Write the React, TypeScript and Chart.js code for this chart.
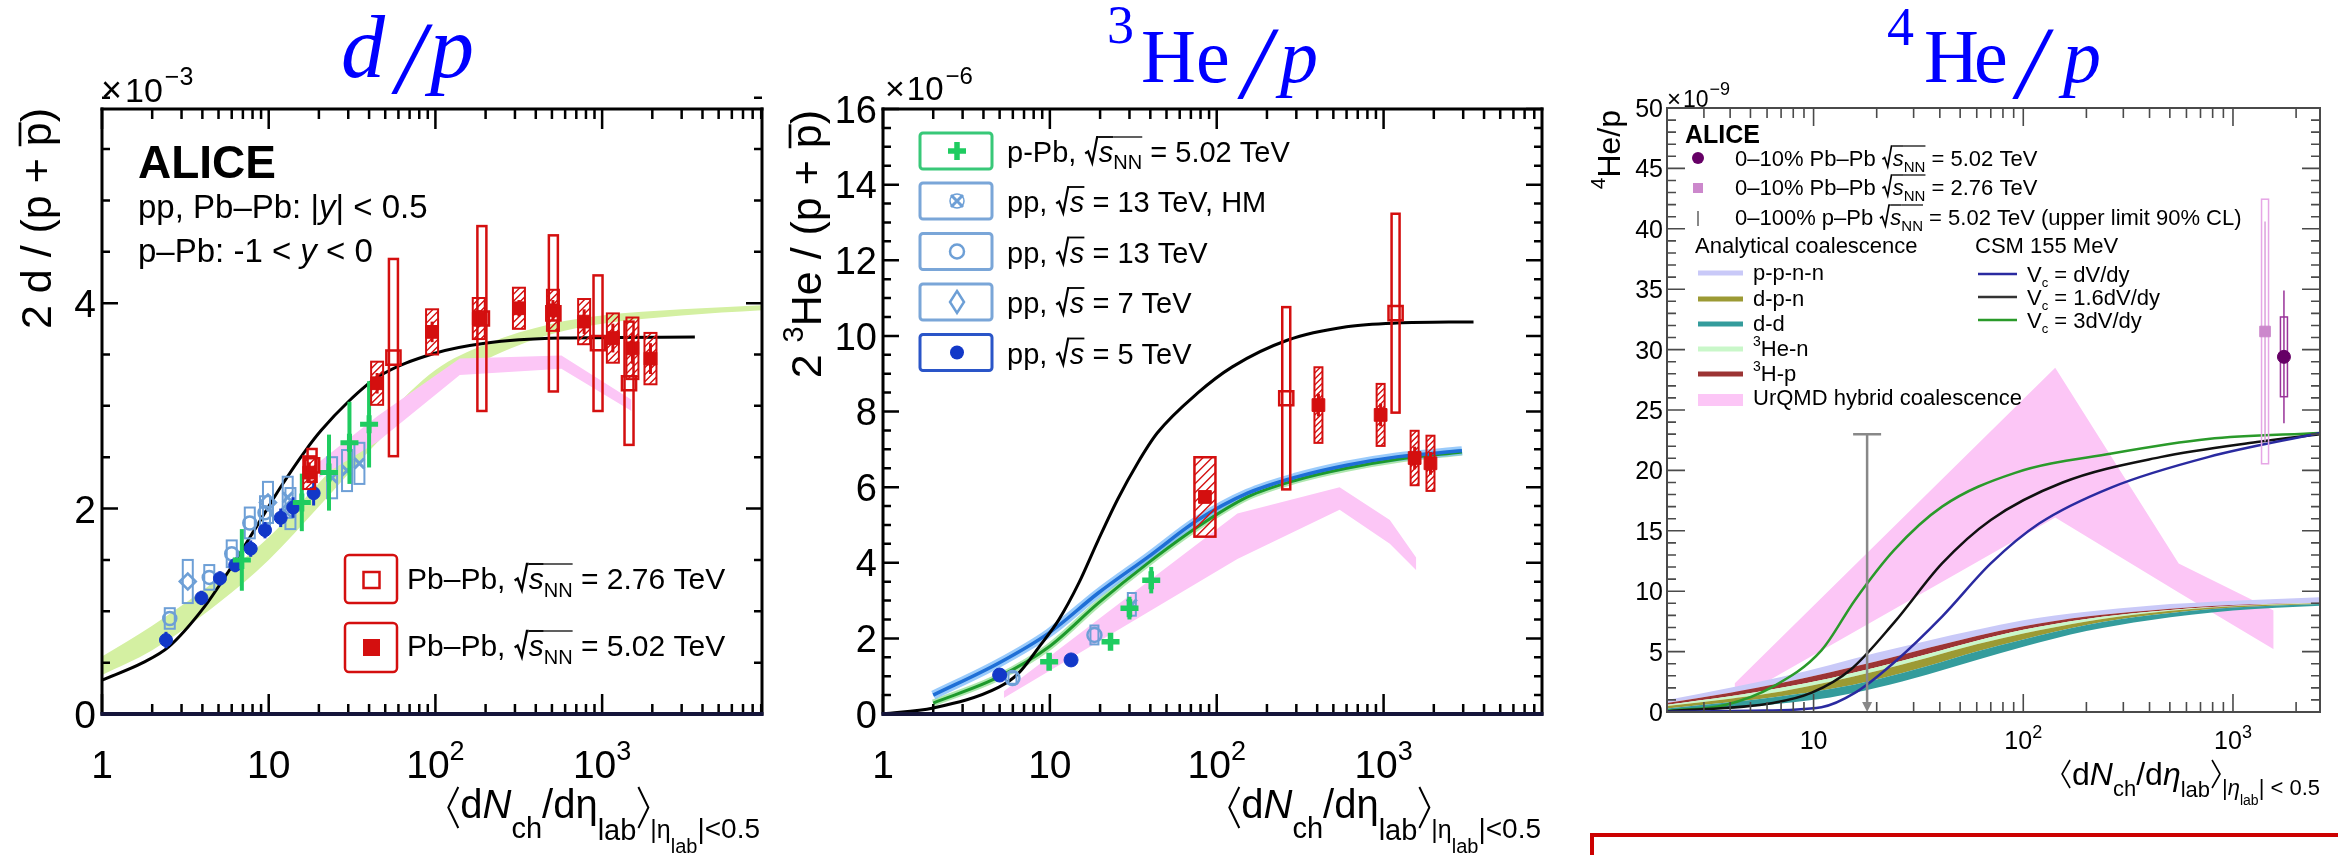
import React, { useEffect, useRef } from 'react';
import { Chart, registerables } from 'chart.js';

Chart.register(...registerables);

const FF = '"Liberation Sans", Arial, Helvetica, sans-serif';
const SERIF = '"Liberation Serif", "Times New Roman", serif';
const PAGE_H = 855;

/* ================= d/p panel ================= */
const dpXTicks = [1, 10, 100, 1000];
const dpXLabels = ['1', '10', '10^2', '10^3'];
const dpYTicks = [0, 2, 4];

const dpCsmX = [1, 1.76, 2.5, 4.1, 5.8, 8.2, 11.8, 16.7, 20.6, 30, 45, 98, 198, 568, 3600];
const dpCsmY = [0.33, 0.5, 0.65, 1.04, 1.4, 1.79, 2.21, 2.57, 2.76, 3.04, 3.28, 3.51, 3.61, 3.66, 3.67];

const dpCoalX = [1, 2, 5, 10, 20, 50, 100, 200, 500, 1000, 3000, 9100];
const dpCoalLo = [0.38, 0.62, 1.08, 1.5, 2.02, 2.72, 3.15, 3.45, 3.7, 3.8, 3.88, 3.93];
const dpCoalHi = [0.56, 0.86, 1.32, 1.72, 2.25, 2.9, 3.35, 3.6, 3.8, 3.88, 3.94, 3.98];

const dpUrqmdX = [20, 45, 140, 570, 1500];
const dpUrqmdLo = [2.3, 2.65, 3.3, 3.36, 2.95];
const dpUrqmdHi = [2.45, 2.9, 3.46, 3.49, 3.06];

const dpPPbX = [6.9, 15.8, 23, 30.5, 40];
const dpPPbY = [1.5, 2.06, 2.35, 2.64, 2.82];
const dpPPbStat = [0.3, 0.28, 0.37, 0.4, 0.42];

const dpPP5X = [2.42, 3.95, 5.1, 6.3, 7.8, 9.5, 11.8, 14, 18.6];
const dpPP5Y = [0.72, 1.13, 1.32, 1.45, 1.61, 1.79, 1.91, 2.01, 2.15];
const dpPP5Stat = [0.08, 0.07, 0.07, 0.07, 0.08, 0.08, 0.09, 0.1, 0.12];

const dpPP13X = [2.55, 4.4, 6.0, 7.7, 9.5];
const dpPP13Y = [0.93, 1.33, 1.56, 1.86, 1.96];
const dpPP13Sys = [0.1, 0.12, 0.13, 0.15, 0.16];

const dpPP7X = [3.27, 9.9, 13.5];
const dpPP7Y = [1.29, 2.06, 2.0];
const dpPP7Sys = [0.21, 0.2, 0.2];

const dpPPHMX = [13, 24, 29.5, 35];
const dpPPHMY = [2.11, 2.3, 2.37, 2.44];
const dpPPHMSys = [0.2, 0.2, 0.2, 0.2];

const dpPbPb502X = [17.5, 44.7, 95.5, 182, 317, 507, 780, 1160, 1520, 1950];
const dpPbPb502Y = [2.35, 3.22, 3.72, 3.85, 3.95, 3.93, 3.82, 3.66, 3.56, 3.46];
const dpPbPb502Sys = [0.16, 0.21, 0.22, 0.2, 0.2, 0.2, 0.22, 0.24, 0.3, 0.25];
const dpPbPb502Stat = [0.1, 0.1, 0.1, 0.08, 0.08, 0.1, 0.12, 0.14, 0.15, 0.15];

const dpPbPb276X = [18.2, 56, 190, 510, 945, 1450];
const dpPbPb276Y = [2.42, 3.47, 3.85, 3.9, 3.61, 3.22];
const dpPbPb276Sys = [0.16, 0.96, 0.9, 0.76, 0.66, 0.6];

/* ================= 3He/p panel ================= */
const he3YTicks = [0, 2, 4, 6, 8, 10, 12, 14, 16];

const he3CsmX = [1, 2, 4.95, 6.5, 8.6, 11.3, 14.9, 19.5, 25.5, 33.6, 44, 77, 124, 267, 600, 1200, 3460];
const he3CsmY = [0, 0.16, 0.71, 1.08, 1.77, 2.49, 3.46, 4.6, 5.68, 6.64, 7.43, 8.49, 9.18, 9.89, 10.24, 10.34, 10.37];

const he3CoalX = [2, 4.95, 9.85, 19.5, 38.7, 77, 153, 302, 600, 1200, 2950];
const he3CoalBlueY = [0.5, 1.35, 2.14, 3.2, 4.15, 5.13, 5.84, 6.27, 6.58, 6.8, 6.96];
const he3CoalGreenY = [0.29, 0.98, 1.77, 2.93, 3.99, 4.95, 5.74, 6.19, 6.5, 6.73, 6.93];

const he3UrqmdX = [5.3, 133, 545, 1090, 1570];
const he3UrqmdLo = [0.42, 4.1, 5.4, 4.5, 3.8];
const he3UrqmdHi = [0.6, 5.3, 6.0, 5.13, 4.13];

const he3PPbX = [9.9, 23.1, 30, 40.5];
const he3PPbY = [1.38, 1.91, 2.8, 3.54];
const he3PPbStat = [0.15, 0.15, 0.3, 0.35];

const he3PPHMX = [31];
const he3PPHMY = [2.9];
const he3PPHMSys = [0.3];

const he3PP13X = [5.97, 18.5];
const he3PP13Y = [0.95, 2.09];
const he3PP13Sys = [0.15, 0.25];

const he3PP5X = [5.0, 13.4];
const he3PP5Y = [1.03, 1.43];
const he3PP5Stat = [0.15, 0.12];

const he3PbPb502X = [407, 960, 1535, 1910];
const he3PbPb502Y = [8.17, 7.91, 6.77, 6.63];
const he3PbPb502Sys = [1.0, 0.82, 0.72, 0.73];
const he3PbPb502Stat = [0.3, 0.3, 0.3, 0.3];

const he3PbPb502CentX = [85];
const he3PbPb502CentY = [5.74];
const he3PbPb502CentSys = [1.05];

const he3PbPb276X = [261, 1180];
const he3PbPb276Y = [8.35, 10.6];
const he3PbPb276Sys = [2.41, 2.63];

/* ================= 4He/p panel ================= */
const he4XTicks = [10, 100, 1000];
const he4XLabels = ['10', '10^2', '10^3'];
const he4YTicks = [0, 5, 10, 15, 20, 25, 30, 35, 40, 45, 50];

const he4CoalX = [2, 4, 7, 12, 20, 35, 60, 100, 200, 400, 1000, 2600];
const he4DdLo = [0, 0.3, 0.7, 1.2, 2.0, 3.1, 4.3, 5.4, 6.7, 7.6, 8.4, 8.8];
const he4DdHi = [0.3, 0.8, 1.3, 1.9, 2.7, 3.8, 5.0, 6.0, 7.2, 8.0, 8.65, 8.95];
const he4DpnHi = [0.5, 1.1, 1.7, 2.5, 3.4, 4.5, 5.6, 6.5, 7.5, 8.2, 8.75, 9.0];
const he4HenHi = [0.6, 1.3, 2.0, 2.8, 3.7, 4.8, 5.9, 6.8, 7.7, 8.3, 8.8, 9.02];
const he4HpHi = [0.75, 1.6, 2.4, 3.3, 4.2, 5.3, 6.3, 7.1, 7.9, 8.4, 8.85, 9.05];
const he4PpnnHi = [1.0, 2.0, 2.9, 3.9, 4.9, 5.9, 6.8, 7.6, 8.3, 8.8, 9.2, 9.5];

const he4Csm1X = [2, 5, 10.9, 15.8, 24.2, 41, 70, 119, 264, 760, 2600];
const he4Csm1Y = [0.02, 0.1, 0.4, 1.6, 4.1, 7.9, 12.3, 15.6, 18.6, 21.1, 23.1];
const he4Csm16X = [2, 6.4, 9.8, 15, 24.2, 41, 70, 154, 450, 1300, 2600];
const he4Csm16Y = [0.05, 0.75, 1.6, 3.5, 7.4, 12.3, 15.9, 19.0, 21.1, 22.35, 23.0];
const he4Csm3X = [2, 3.78, 6.4, 10.9, 15.8, 24.2, 41, 91.4, 264, 760, 2600];
const he4Csm3Y = [0.1, 0.58, 2.1, 5.1, 9.3, 13.4, 17.0, 19.8, 21.4, 22.6, 23.1];

const he4UrqmdX = [4.2, 142, 551, 1563];
const he4UrqmdLo = [1.0, 16.1, 9.9, 5.2];
const he4UrqmdHi = [2.35, 28.5, 12.3, 8.4];

const he4PbPb502X = [1750];
const he4PbPb502Y = [29.4];
const he4PbPb502Stat = [5.5];
const he4PbPb502Sys = [3.3];

const he4PbPb276X = [1422];
const he4PbPb276Y = [31.5];
const he4PbPb276Stat = [9.1];
const he4PbPb276Sys = [10.95];

const he4UlX = [18];
const he4UlY = [23];

/* ================= helpers ================= */
const xy = (X: number[], Y: number[]) => X.map((x, i) => ({ x, y: Y[i] }));

function lineDs(X: number[], Y: number[], color: string, width: number, order = 5, smooth = true): any {
  return {
    data: xy(X, Y), showLine: true, borderColor: color, borderWidth: width, pointRadius: 0,
    fill: false, order, tension: 0, cubicInterpolationMode: smooth ? 'monotone' : 'default',
  };
}
function bandDs(X: number[], Y: number[], color: string | null, order: number, smooth: boolean): any {
  const d = lineDs(X, Y, 'rgba(0,0,0,0)', 0, order, smooth);
  if (color) { d.fill = '-1'; d.backgroundColor = color; }
  return d;
}
function markDs(X: number[], Y: number[], style: string, o: any): any {
  return {
    data: xy(X, Y), showLine: false, pointStyle: style, pointRadius: o.r,
    pointBackgroundColor: o.fill ?? o.color, pointBorderColor: o.color, pointBorderWidth: o.bw ?? 1,
    borderColor: o.color, backgroundColor: o.fill ?? o.color, order: o.order ?? 1, errs: o.errs,
  };
}

type Part = any;
function fontOf(p: Part) {
  return `${p.it ? 'italic ' : ''}${p.b ? 'bold ' : ''}${p.f}px ${p.fam || FF}`;
}
function partW(ctx: CanvasRenderingContext2D, p: Part) {
  if (p.sqrt) return p.f * 0.5;
  if (p.br) return p.w;
  ctx.font = fontOf(p);
  return ctx.measureText(p.t).width + (p.dx || 0);
}
function drawRich(ctx: CanvasRenderingContext2D, x: number, y: number, parts: Part[], align = 'left', color = '#000') {
  let w = 0;
  for (const p of parts) w += partW(ctx, p);
  let cx = align === 'left' ? x : align === 'right' ? x - w : x - w / 2;
  ctx.textAlign = 'left';
  ctx.textBaseline = 'alphabetic';
  for (const p of parts) {
    const pw = partW(ctx, p);
    const col = p.c || color;
    ctx.fillStyle = col;
    ctx.strokeStyle = col;
    if (p.sqrt) {
      const s = p.f, h = p.sqrt;
      ctx.lineWidth = Math.max(1.3, s / 13);
      ctx.beginPath();
      ctx.moveTo(cx + 0.03 * s, y - 0.34 * h);
      ctx.lineTo(cx + 0.13 * s, y - 0.42 * h);
      ctx.lineTo(cx + 0.27 * s, y + 0.03 * s);
      ctx.lineTo(cx + 0.44 * s, y - h);
      ctx.lineTo(cx + 0.5 * s, y - h);
      ctx.stroke();
    } else if (p.br) {
      ctx.lineWidth = p.lw || 2;
      const mid = y + (p.bot - p.top) / 2;
      ctx.beginPath();
      if (p.br === 'l') {
        ctx.moveTo(cx + p.w - 2, y - p.top); ctx.lineTo(cx + 2, mid); ctx.lineTo(cx + p.w - 2, y + p.bot);
      } else {
        ctx.moveTo(cx + 2, y - p.top); ctx.lineTo(cx + p.w - 2, mid); ctx.lineTo(cx + 2, y + p.bot);
      }
      ctx.stroke();
    } else {
      ctx.font = fontOf(p);
      ctx.fillText(p.t, cx, y + (p.dy || 0));
    }
    if (p.ol) {
      ctx.lineWidth = Math.max(1.2, p.f / 16);
      ctx.beginPath();
      ctx.moveTo(cx, y - p.ol);
      ctx.lineTo(cx + pw, y - p.ol);
      ctx.stroke();
    }
    cx += pw;
  }
}
const sqS = (f: number, h: number, sub?: string): Part[] => {
  const r: Part[] = [{ sqrt: h, f }, { t: 's', f, it: true, ol: h }];
  if (sub) r.push({ t: sub, f: Math.round(f * 0.68), dy: Math.round(f * 0.25), ol: h });
  return r;
};

function drawGlyphs(ctx: CanvasRenderingContext2D, gl: any[]) {
  ctx.textAlign = 'left';
  ctx.textBaseline = 'alphabetic';
  ctx.fillStyle = '#0000ff';
  gl.forEach((g) => {
    ctx.font = `${g.it ? 'italic ' : ''}${g.f}px ${SERIF}`;
    ctx.fillText(g.t, g.x, g.y);
  });
}

function drawErrs(chart: any, ds: any) {
  const e = ds && ds.errs;
  if (!e) return;
  const { ctx, chartArea: a } = chart;
  const sx = chart.scales.x, sy = chart.scales.y;
  ctx.save();
  ctx.beginPath();
  ctx.rect(a.left, a.top, a.right - a.left, a.bottom - a.top);
  ctx.clip();
  ds.data.forEach((p: any, i: number) => {
    const px = sx.getPixelForValue(p.x);
    if (e.stat) {
      const t = sy.getPixelForValue(p.y + e.stat[i]);
      const b = sy.getPixelForValue(p.y - e.stat[i]);
      ctx.strokeStyle = e.statColor;
      ctx.lineWidth = e.statLw;
      ctx.beginPath();
      ctx.moveTo(px, t);
      ctx.lineTo(px, b);
      ctx.stroke();
    }
    if (e.sys) {
      const t = sy.getPixelForValue(p.y + e.sys[i]);
      const b = sy.getPixelForValue(p.y - e.sys[i]);
      const hw = e.bw / 2;
      if (e.hatch) {
        ctx.save();
        ctx.beginPath();
        ctx.rect(px - hw, t, 2 * hw, b - t);
        ctx.clip();
        ctx.strokeStyle = e.sysColor;
        ctx.lineWidth = 1.4;
        ctx.beginPath();
        for (let k = 0; k < b - t + 2 * hw + e.hatch; k += e.hatch) {
          ctx.moveTo(px - hw, t + k);
          ctx.lineTo(px + hw, t + k - 2 * hw);
        }
        ctx.stroke();
        ctx.restore();
      }
      ctx.strokeStyle = e.sysColor;
      ctx.lineWidth = e.sysLw;
      ctx.strokeRect(px - hw, t, 2 * hw, b - t);
    }
  });
  ctx.restore();
}

function drawAxes(chart: any, o: any) {
  const { ctx, chartArea: a } = chart;
  const sx = chart.scales.x, sy = chart.scales.y;
  ctx.save();
  ctx.setLineDash([]);
  ctx.globalAlpha = 1;
  ctx.lineCap = 'butt';
  ctx.strokeStyle = o.color;
  ctx.lineWidth = o.tickW;
  ctx.beginPath();
  const d0 = Math.floor(Math.log10(o.xmin)), d1 = Math.ceil(Math.log10(o.xmax));
  for (let d = d0; d <= d1; d++) {
    for (let m = 1; m <= 9; m++) {
      const v = m * Math.pow(10, d);
      if (v < o.xmin * 0.9999 || v > o.xmax * 1.0001) continue;
      const px = sx.getPixelForValue(v);
      const L = m === 1 ? o.xMajL : o.xMinL;
      ctx.moveTo(px, a.bottom); ctx.lineTo(px, a.bottom - L);
      ctx.moveTo(px, a.top); ctx.lineTo(px, a.top + L);
    }
  }
  const n = Math.round((o.ymax - o.ymin) / o.yStep);
  for (let i = 0; i <= n; i++) {
    const v = o.ymin + i * o.yStep;
    const py = sy.getPixelForValue(v);
    const major = o.yTicks.some((t: number) => Math.abs(t - v) < 1e-9);
    const L = major ? o.yMajL : o.yMinL;
    ctx.moveTo(a.left, py); ctx.lineTo(a.left + L, py);
    ctx.moveTo(a.right, py); ctx.lineTo(a.right - L, py);
  }
  ctx.stroke();
  // frame drawn as filled bars
  const fw = o.frameW;
  ctx.fillStyle = o.color;
  ctx.fillRect(a.left - fw / 2, a.top - fw / 2, a.right - a.left + fw, fw);
  ctx.fillRect(a.left - fw / 2, a.top - fw / 2, fw, a.bottom - a.top + fw);
  ctx.fillRect(a.right - fw / 2, a.top - fw / 2, fw, a.bottom - a.top + fw);
  ctx.fillStyle = o.bottomColor || o.color;
  const bw = o.bottomColor ? fw + 1 : fw;
  ctx.fillRect(a.left - fw / 2, a.bottom - bw / 2, a.right - a.left + fw, bw);
  o.xTicks.forEach((v: number, i: number) => {
    const px = sx.getPixelForValue(v);
    const [b, e] = o.xLabels[i].split('^');
    const parts: Part[] = [{ t: b, f: o.xLabF }];
    if (e) parts.push({ t: e, f: Math.round(o.xLabF * 0.7), dy: -Math.round(o.xLabF * 0.45) });
    drawRich(ctx, px, o.xLabY, parts, 'center');
  });
  o.yTicks.forEach((v: number) => {
    const py = sy.getPixelForValue(v);
    drawRich(ctx, o.yLabX, py + o.yLabF * 0.36, [{ t: String(v), f: o.yLabF }], 'right');
  });
  ctx.restore();
}

function baseOptions(pad: any, xmin: number, xmax: number, ymin: number, ymax: number): any {
  return {
    responsive: false,
    animation: false,
    events: [],
    layout: { padding: pad },
    scales: {
      x: { type: 'logarithmic', min: xmin, max: xmax, display: false, ticks: { display: false } },
      y: { type: 'linear', min: ymin, max: ymax, display: false, ticks: { display: false } },
    },
    plugins: { legend: { display: false }, tooltip: { enabled: false }, title: { display: false } },
  };
}

const errPlugin = {
  id: 'errs',
  beforeDatasetDraw(chart: any, args: any) {
    drawErrs(chart, chart.data.datasets[args.index]);
  },
};

/* ================= panel builders ================= */
const RED = '#d40f0f';
const LBLUE = '#6d9fd6';
const DBLUE = '#1238c8';
const GREEN = '#1fcc60';

function xTitleBig(): Part[] {
  return [
    { br: 'l', w: 14, top: 31, bot: 10, lw: 2 },
    { t: 'd', f: 40 }, { t: 'N', f: 40, it: true }, { t: 'ch', f: 29, dy: 20 },
    { t: '/d', f: 40 }, { t: 'η', f: 40 }, { t: 'lab', f: 29, dy: 22 },
    { br: 'r', w: 14, top: 31, bot: 10, lw: 2 },
    { t: '|η', f: 25, dy: 20 }, { t: 'lab', f: 20, dy: 35 }, { t: '|<0.5', f: 28, dy: 20 },
  ];
}

function buildDp(): any {
  const opts = baseOptions({ left: 102, right: 18, top: 109, bottom: PAGE_H - 714 }, 1, 9100, 0, 5.89);
  const datasets = [
    bandDs(dpCoalX, dpCoalLo, null, 20, true),
    bandDs(dpCoalX, dpCoalHi, '#d4f0a2', 20, true),
    bandDs(dpUrqmdX, dpUrqmdLo, null, 19, false),
    bandDs(dpUrqmdX, dpUrqmdHi, '#fcc6f6', 19, false),
    lineDs(dpCsmX, dpCsmY, '#000000', 3, 5),
    markDs(dpPP13X, dpPP13Y, 'circle', { r: 6.5, color: LBLUE, fill: 'rgba(0,0,0,0)', bw: 2.5, order: 4,
      errs: { sys: dpPP13Sys, bw: 10, sysColor: LBLUE, sysLw: 2 } }),
    markDs(dpPP7X, dpPP7Y, 'rectRot', { r: 8, color: LBLUE, fill: 'rgba(0,0,0,0)', bw: 2.5, order: 4,
      errs: { sys: dpPP7Sys, bw: 10, sysColor: LBLUE, sysLw: 2 } }),
    markDs(dpPPHMX, dpPPHMY, 'crossRot', { r: 7, color: LBLUE, bw: 3, order: 4,
      errs: { sys: dpPPHMSys, bw: 10, sysColor: LBLUE, sysLw: 2 } }),
    markDs(dpPP5X, dpPP5Y, 'circle', { r: 6.5, color: DBLUE, order: 3,
      errs: { stat: dpPP5Stat, statColor: DBLUE, statLw: 3 } }),
    markDs(dpPPbX, dpPPbY, 'cross', { r: 9, color: GREEN, bw: 5, order: 2,
      errs: { stat: dpPPbStat, statColor: GREEN, statLw: 4 } }),
    markDs(dpPbPb276X, dpPbPb276Y, 'rect', { r: 10, color: RED, fill: 'rgba(0,0,0,0)', bw: 2.5, order: 1,
      errs: { sys: dpPbPb276Sys, bw: 9, sysColor: RED, sysLw: 2.5 } }),
    markDs(dpPbPb502X, dpPbPb502Y, 'rect', { r: 9, color: RED, order: 1,
      errs: { sys: dpPbPb502Sys, bw: 12, sysColor: RED, sysLw: 2, hatch: 7, stat: dpPbPb502Stat, statColor: RED, statLw: 3 } }),
  ];
  const deco = {
    id: 'dpDeco',
    afterDraw(chart: any) {
      const ctx = chart.ctx;
      drawAxes(chart, {
        xmin: 1, xmax: 9100, ymin: 0, ymax: 5.89, yStep: 0.5, yTicks: dpYTicks,
        color: '#000000', tickW: 2.5, frameW: 3, bottomColor: '#15153a',
        xMajL: 20, xMinL: 10, yMajL: 16, yMinL: 8,
        xTicks: dpXTicks, xLabels: dpXLabels, xLabF: 39, xLabY: 778, yLabF: 39, yLabX: 96,
      });
      drawGlyphs(ctx, [
        { t: 'd', x: 341, y: 77, f: 88, it: true },
        { t: '/', x: 396, y: 93, f: 104, it: true },
        { t: 'p', x: 430, y: 77, f: 88, it: true },
      ]);
      drawRich(ctx, 101, 102, [{ t: '×', f: 36, dx: 3 }, { t: '10', f: 34, dx: 2 }, { t: '−3', f: 25, dy: -17 }]);
      ctx.save();
      ctx.translate(51, 108);
      ctx.rotate(-Math.PI / 2);
      drawRich(ctx, 0, 0, [{ t: '2 d / (p + ', f: 43 }, { t: 'p', f: 43, ol: 31 }, { t: ')', f: 43 }], 'right');
      ctx.restore();
      drawRich(ctx, 138, 178, [{ t: 'ALICE', f: 46, b: true }]);
      drawRich(ctx, 138, 218, [{ t: 'pp, Pb–Pb: |', f: 33 }, { t: 'y', f: 33, it: true }, { t: '| < 0.5', f: 33 }]);
      drawRich(ctx, 138, 262, [{ t: 'p–Pb: -1 < ', f: 33 }, { t: 'y', f: 33, it: true }, { t: ' < 0', f: 33 }]);
      ctx.save();
      ctx.strokeStyle = RED;
      ctx.lineWidth = 2.5;
      ctx.beginPath(); ctx.roundRect(345, 555, 52, 48, 4); ctx.stroke();
      ctx.beginPath(); ctx.roundRect(345, 623, 52, 49, 4); ctx.stroke();
      ctx.strokeRect(363.5, 572, 16, 16);
      ctx.fillStyle = RED;
      ctx.fillRect(363, 639, 17, 17);
      ctx.restore();
      drawRich(ctx, 407, 589, [{ t: 'Pb–Pb, ', f: 30 }, ...sqS(30, 25, 'NN'), { t: ' = 2.76 TeV', f: 30 }]);
      drawRich(ctx, 407, 656, [{ t: 'Pb–Pb, ', f: 30 }, ...sqS(30, 25, 'NN'), { t: ' = 5.02 TeV', f: 30 }]);
      drawRich(ctx, 760, 818, xTitleBig(), 'right');
    },
  };
  return { type: 'line', data: { datasets }, options: opts, plugins: [errPlugin, deco] };
}

function drawMark(ctx: CanvasRenderingContext2D, kind: string, x: number, y: number, col: string) {
  ctx.save();
  ctx.strokeStyle = col;
  ctx.fillStyle = col;
  ctx.beginPath();
  if (kind === 'plus') {
    ctx.lineWidth = 5.5;
    ctx.moveTo(x - 9, y); ctx.lineTo(x + 9, y); ctx.moveTo(x, y - 9); ctx.lineTo(x, y + 9);
    ctx.stroke();
  } else if (kind === 'hm') {
    ctx.lineWidth = 3;
    ctx.moveTo(x - 6, y - 6); ctx.lineTo(x + 6, y + 6); ctx.moveTo(x + 6, y - 6); ctx.lineTo(x - 6, y + 6);
    ctx.stroke();
    ctx.lineWidth = 1.5;
    ctx.beginPath(); ctx.arc(x, y, 7, 0, Math.PI * 2); ctx.stroke();
  } else if (kind === 'ocirc') {
    ctx.lineWidth = 2.5;
    ctx.arc(x, y, 7, 0, Math.PI * 2); ctx.stroke();
  } else if (kind === 'diam') {
    ctx.lineWidth = 2.5;
    ctx.moveTo(x, y - 11); ctx.lineTo(x + 7, y); ctx.lineTo(x, y + 11); ctx.lineTo(x - 7, y); ctx.closePath();
    ctx.stroke();
  } else {
    ctx.arc(x, y, 7, 0, Math.PI * 2); ctx.fill();
  }
  ctx.restore();
}

function buildHe3(): any {
  const opts = baseOptions({ left: 103, right: 18, top: 109, bottom: PAGE_H - 714 }, 1, 8900, 0, 16);
  const datasets = [
    bandDs(he3UrqmdX, he3UrqmdLo, null, 19, false),
    bandDs(he3UrqmdX, he3UrqmdHi, '#fcc6f6', 19, false),
    lineDs(he3CoalX, he3CoalBlueY, 'rgba(120,185,250,0.75)', 9, 8),
    lineDs(he3CoalX, he3CoalGreenY, 'rgba(120,215,120,0.6)', 7, 8),
    lineDs(he3CoalX, he3CoalBlueY, '#1f6fd6', 3.5, 6),
    lineDs(he3CoalX, he3CoalGreenY, '#1d9a2b', 3, 6),
    lineDs(he3CsmX, he3CsmY, '#000000', 3, 5),
    markDs(he3PP13X, he3PP13Y, 'circle', { r: 7, color: LBLUE, fill: 'rgba(0,0,0,0)', bw: 2.5, order: 4,
      errs: { sys: he3PP13Sys, bw: 8, sysColor: LBLUE, sysLw: 2 } }),
    markDs(he3PPHMX, he3PPHMY, 'crossRot', { r: 7, color: LBLUE, bw: 3, order: 4,
      errs: { sys: he3PPHMSys, bw: 8, sysColor: LBLUE, sysLw: 2 } }),
    markDs(he3PP5X, he3PP5Y, 'circle', { r: 7, color: DBLUE, order: 3,
      errs: { stat: he3PP5Stat, statColor: DBLUE, statLw: 3 } }),
    markDs(he3PPbX, he3PPbY, 'cross', { r: 9, color: GREEN, bw: 5.5, order: 2,
      errs: { stat: he3PPbStat, statColor: GREEN, statLw: 4 } }),
    markDs(he3PbPb276X, he3PbPb276Y, 'rect', { r: 10, color: RED, fill: 'rgba(0,0,0,0)', bw: 2.5, order: 1,
      errs: { sys: he3PbPb276Sys, bw: 8, sysColor: RED, sysLw: 2.5 } }),
    markDs(he3PbPb502CentX, he3PbPb502CentY, 'rect', { r: 9, color: RED, order: 1,
      errs: { sys: he3PbPb502CentSys, bw: 21, sysColor: RED, sysLw: 2.5, hatch: 9 } }),
    markDs(he3PbPb502X, he3PbPb502Y, 'rect', { r: 9, color: RED, order: 1,
      errs: { sys: he3PbPb502Sys, bw: 8, sysColor: RED, sysLw: 2, hatch: 6, stat: he3PbPb502Stat, statColor: RED, statLw: 3 } }),
  ];
  const legend = [
    { kind: 'plus', col: GREEN, box: '#38c878', parts: [{ t: 'p-Pb, ', f: 29 }, ...sqS(29, 25, 'NN'), { t: ' = 5.02 TeV', f: 29 }] },
    { kind: 'hm', col: LBLUE, box: '#7aa6d8', parts: [{ t: 'pp, ', f: 29 }, ...sqS(29, 25), { t: ' = 13 TeV, HM', f: 29 }] },
    { kind: 'ocirc', col: LBLUE, box: '#7aa6d8', parts: [{ t: 'pp, ', f: 29 }, ...sqS(29, 25), { t: ' = 13 TeV', f: 29 }] },
    { kind: 'diam', col: LBLUE, box: '#7aa6d8', parts: [{ t: 'pp, ', f: 29 }, ...sqS(29, 25), { t: ' = 7 TeV', f: 29 }] },
    { kind: 'fcirc', col: DBLUE, box: '#2a55c8', parts: [{ t: 'pp, ', f: 29 }, ...sqS(29, 25), { t: ' = 5 TeV', f: 29 }] },
  ];
  const rowY = [151, 201, 251.5, 302, 352.5];
  const deco = {
    id: 'he3Deco',
    afterDraw(chart: any) {
      const ctx = chart.ctx;
      drawAxes(chart, {
        xmin: 1, xmax: 8900, ymin: 0, ymax: 16, yStep: 0.5, yTicks: he3YTicks,
        color: '#000000', tickW: 2.5, frameW: 3, bottomColor: '#15153a',
        xMajL: 20, xMinL: 10, yMajL: 16, yMinL: 8,
        xTicks: dpXTicks, xLabels: dpXLabels, xLabF: 39, xLabY: 778, yLabF: 38, yLabX: 97,
      });
      drawGlyphs(ctx, [
        { t: '3', x: 327, y: 43, f: 54 },
        { t: 'H', x: 361, y: 82, f: 76 },
        { t: 'e', x: 416, y: 82, f: 76 },
        { t: '/', x: 462, y: 98, f: 104, it: true },
        { t: 'p', x: 500, y: 82, f: 76, it: true },
      ]);
      drawRich(ctx, 105, 100, [{ t: '×', f: 34, dx: 2 }, { t: '10', f: 33, dx: 2 }, { t: '−6', f: 24, dy: -16 }]);
      ctx.save();
      ctx.translate(41, 110);
      ctx.rotate(-Math.PI / 2);
      drawRich(ctx, 0, 0, [
        { t: '2 ', f: 43 }, { t: '3', f: 29, dy: -18 }, { t: 'He / (p + ', f: 43 },
        { t: 'p', f: 43, ol: 31 }, { t: ')', f: 43 },
      ], 'right');
      ctx.restore();
      legend.forEach((r, i) => {
        const cy = rowY[i];
        ctx.save();
        ctx.strokeStyle = r.box;
        ctx.lineWidth = 3;
        ctx.beginPath(); ctx.roundRect(140, cy - 18, 72, 36, 3); ctx.stroke();
        ctx.restore();
        drawMark(ctx, r.kind, 177, cy, r.col);
        drawRich(ctx, 227, cy + 11, r.parts);
      });
      drawRich(ctx, 761, 818, xTitleBig(), 'right');
    },
  };
  return { type: 'line', data: { datasets }, options: opts, plugins: [errPlugin, deco] };
}

function buildHe4(): any {
  const opts = baseOptions({ left: 107, right: 18, top: 108, bottom: PAGE_H - 712 }, 2, 2600, 0, 50);
  const datasets = [
    bandDs(he4UrqmdX, he4UrqmdLo, null, 30, false),
    bandDs(he4UrqmdX, he4UrqmdHi, '#fcc6f6', 30, false),
    bandDs(he4CoalX, he4DdLo, null, 20, true),
    bandDs(he4CoalX, he4DdHi, '#349c9c', 20, true),
    bandDs(he4CoalX, he4DpnHi, '#9c9a34', 20, true),
    bandDs(he4CoalX, he4HenHi, '#c9f7c9', 20, true),
    bandDs(he4CoalX, he4HpHi, '#9c3434', 20, true),
    bandDs(he4CoalX, he4PpnnHi, '#c9c9f8', 20, true),
    lineDs(he4Csm1X, he4Csm1Y, '#2a2aa0', 2.5, 5),
    lineDs(he4Csm16X, he4Csm16Y, '#111111', 2.5, 5),
    lineDs(he4Csm3X, he4Csm3Y, '#2a9a2a', 2.5, 5),
    markDs(he4PbPb276X, he4PbPb276Y, 'rect', { r: 7.5, color: '#cc88cc', order: 2,
      errs: { sys: he4PbPb276Sys, bw: 7, sysColor: '#e6a6e6', sysLw: 1.5, stat: he4PbPb276Stat, statColor: '#dca0dc', statLw: 1.5 } }),
    markDs(he4PbPb502X, he4PbPb502Y, 'circle', { r: 6.5, color: '#660066', order: 1,
      errs: { sys: he4PbPb502Sys, bw: 7, sysColor: '#993399', sysLw: 1.5, stat: he4PbPb502Stat, statColor: '#993399', statLw: 1.5 } }),
  ];
  const deco = {
    id: 'he4Deco',
    afterDraw(chart: any) {
      const ctx = chart.ctx;
      const sx = chart.scales.x, sy = chart.scales.y;
      ctx.save();
      ctx.strokeStyle = '#888888';
      ctx.fillStyle = '#888888';
      ctx.lineWidth = 2.5;
      he4UlX.forEach((x, i) => {
        const px = sx.getPixelForValue(x);
        const py = sy.getPixelForValue(he4UlY[i]);
        const p0 = sy.getPixelForValue(0);
        ctx.beginPath();
        ctx.moveTo(px - 14, py); ctx.lineTo(px + 14, py);
        ctx.moveTo(px, py); ctx.lineTo(px, p0 - 8);
        ctx.stroke();
        ctx.beginPath();
        ctx.moveTo(px - 5, p0 - 10); ctx.lineTo(px + 5, p0 - 10); ctx.lineTo(px, p0); ctx.closePath();
        ctx.fill();
      });
      ctx.restore();
      drawAxes(chart, {
        xmin: 2, xmax: 2600, ymin: 0, ymax: 50, yStep: 1, yTicks: he4YTicks,
        color: '#4a4a4a', tickW: 1.6, frameW: 2,
        xMajL: 18, xMinL: 10, yMajL: 18, yMinL: 9,
        xTicks: he4XTicks, xLabels: he4XLabels, xLabF: 25, xLabY: 749, yLabF: 25, yLabX: 103,
      });
      drawGlyphs(ctx, [
        { t: '4', x: 327, y: 45, f: 54 },
        { t: 'H', x: 364, y: 82, f: 76 },
        { t: 'e', x: 414, y: 82, f: 76 },
        { t: '/', x: 457, y: 98, f: 104, it: true },
        { t: 'p', x: 503, y: 82, f: 76, it: true },
      ]);
      drawRich(ctx, 107, 107, [{ t: '×', f: 24, dx: 2 }, { t: '10', f: 23, dx: 1 }, { t: '−9', f: 18, dy: -12 }]);
      ctx.save();
      ctx.translate(60, 110);
      ctx.rotate(-Math.PI / 2);
      drawRich(ctx, 0, 0, [{ t: '4', f: 21, dy: -15 }, { t: 'He/p', f: 32 }], 'right');
      ctx.restore();
      drawRich(ctx, 125, 143, [{ t: 'ALICE', f: 25, b: true }]);
      ctx.save();
      ctx.fillStyle = '#660066';
      ctx.beginPath(); ctx.arc(138, 158, 6, 0, Math.PI * 2); ctx.fill();
      ctx.fillStyle = '#cc88cc';
      ctx.fillRect(133, 183, 10, 10);
      ctx.strokeStyle = '#888888';
      ctx.lineWidth = 2;
      ctx.beginPath(); ctx.moveTo(138, 211); ctx.lineTo(138, 226); ctx.stroke();
      ctx.restore();
      drawRich(ctx, 175, 166, [{ t: '0–10% Pb–Pb ', f: 22 }, ...sqS(22, 20, 'NN'), { t: ' = 5.02 TeV', f: 22 }]);
      drawRich(ctx, 175, 195, [{ t: '0–10% Pb–Pb ', f: 22 }, ...sqS(22, 20, 'NN'), { t: ' = 2.76 TeV', f: 22 }]);
      drawRich(ctx, 175, 225, [{ t: '0–100% p–Pb ', f: 22 }, ...sqS(22, 20, 'NN'), { t: ' = 5.02 TeV (upper limit 90% CL)', f: 22 }]);
      drawRich(ctx, 135, 253, [{ t: 'Analytical coalescence', f: 22 }]);
      drawRich(ctx, 415, 253, [{ t: 'CSM 155 MeV', f: 22 }]);
      const coal = [
        { c: '#c9c9f8', y: 273, parts: [{ t: 'p-p-n-n', f: 22 }] },
        { c: '#9c9a34', y: 299, parts: [{ t: 'd-p-n', f: 22 }] },
        { c: '#349c9c', y: 324, parts: [{ t: 'd-d', f: 22 }] },
        { c: '#c9f7c9', y: 349, parts: [{ t: '3', f: 14, dy: -10 }, { t: 'He-n', f: 22 }] },
        { c: '#9c3434', y: 374, parts: [{ t: '3', f: 14, dy: -10 }, { t: 'H-p', f: 22 }] },
      ];
      ctx.save();
      ctx.lineWidth = 5;
      coal.forEach((r) => {
        ctx.strokeStyle = r.c;
        ctx.beginPath(); ctx.moveTo(138, r.y); ctx.lineTo(183, r.y); ctx.stroke();
      });
      ctx.fillStyle = '#fcc6f6';
      ctx.fillRect(138, 394, 45, 12);
      ctx.restore();
      coal.forEach((r) => drawRich(ctx, 193, r.y + 7, r.parts));
      drawRich(ctx, 193, 405, [{ t: 'UrQMD hybrid coalescence', f: 22 }]);
      const csm = [
        { c: '#2a2aa0', y: 274, t: ' = dV/dy' },
        { c: '#333333', y: 297, t: ' = 1.6dV/dy' },
        { c: '#2a9a2a', y: 320, t: ' = 3dV/dy' },
      ];
      ctx.save();
      ctx.lineWidth = 2.5;
      csm.forEach((r) => {
        ctx.strokeStyle = r.c;
        ctx.beginPath(); ctx.moveTo(418, r.y); ctx.lineTo(457, r.y); ctx.stroke();
      });
      ctx.restore();
      csm.forEach((r) => drawRich(ctx, 467, r.y + 8, [{ t: 'V', f: 22 }, { t: 'c', f: 13, dy: 5 }, { t: r.t, f: 22 }]));
      drawRich(ctx, 760, 785, [
        { br: 'l', w: 12, top: 25, bot: 3, lw: 1.6 },
        { t: 'd', f: 32 }, { t: 'N', f: 32, it: true }, { t: 'ch', f: 22, dy: 11 },
        { t: '/d', f: 32 }, { t: 'η', f: 32, it: true }, { t: 'lab', f: 22, dy: 12 },
        { br: 'r', w: 12, top: 25, bot: 3, lw: 1.6 },
        { t: '|', f: 22, dy: 10 }, { t: 'η', f: 22, it: true, dy: 10 }, { t: 'lab', f: 14, dy: 20 },
        { t: '| < 0.5', f: 22, dy: 10 },
      ], 'right');
      ctx.save();
      ctx.strokeStyle = '#cc0000';
      ctx.lineWidth = 4;
      ctx.strokeRect(32, 835, 900, 100);
      ctx.restore();
    },
  };
  return { type: 'line', data: { datasets }, options: opts, plugins: [errPlugin, deco] };
}

function Panel({ left, width, build }: { left: number; width: number; build: () => any }) {
  const ref = useRef<HTMLCanvasElement>(null);
  useEffect(() => {
    const chart = new Chart(ref.current as HTMLCanvasElement, build());
    return () => chart.destroy();
  }, []);
  return (
    <canvas
      ref={ref}
      width={width}
      height={PAGE_H}
      style={{ position: 'absolute', left, top: 0, width, height: PAGE_H, display: 'block' }}
    />
  );
}

export default function App() {
  return (
    <div style={{ position: 'absolute', left: 0, top: 0, width: 2338, height: PAGE_H, overflow: 'hidden', background: '#fff' }}>
      <Panel left={0} width={780} build={buildDp} />
      <Panel left={780} width={780} build={buildHe3} />
      <Panel left={1560} width={778} build={buildHe4} />
    </div>
  );
}
